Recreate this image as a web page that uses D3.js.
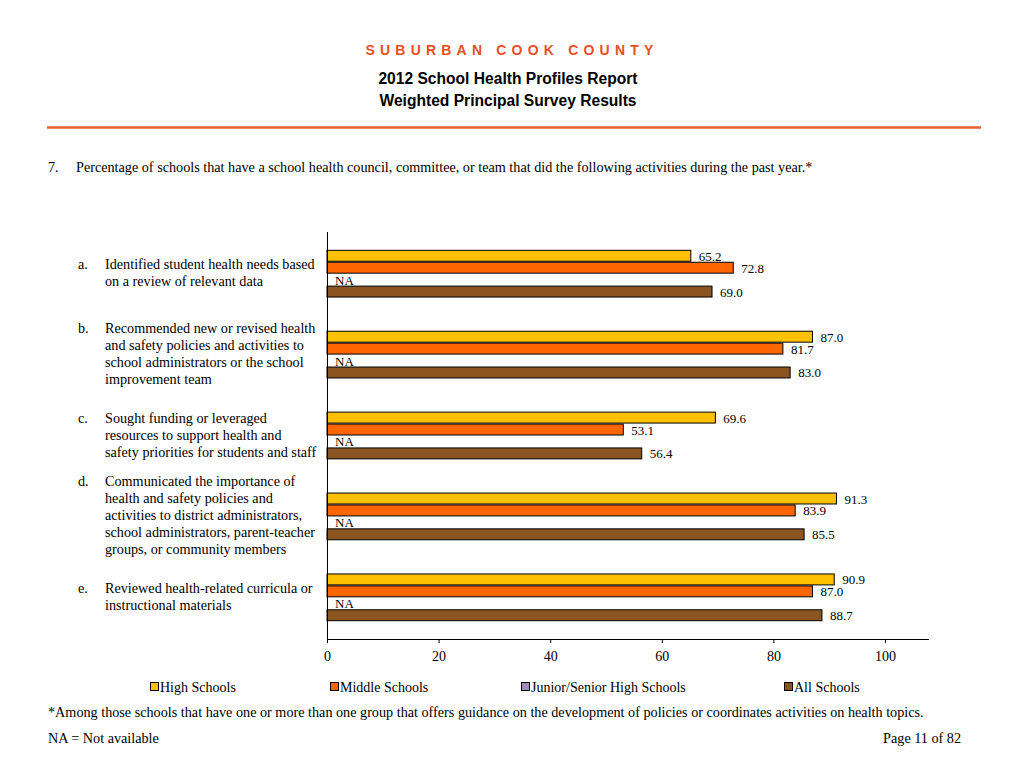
<!DOCTYPE html>
<html>
<head>
<meta charset="utf-8">
<script src="https://cdn.jsdelivr.net/npm/d3@7"></script>
<style>
  html, body { margin: 0; padding: 0; background: #fff; }
  svg { display: block; }
</style>
</head>
<body>
<svg id="chart" width="1024" height="768"></svg>
<script>
// ---- data ----
const categories = ["a.", "b.", "c.", "d.", "e."];
const categoryLabels = [
  ["Identified student health needs based", "on a review of relevant data"],
  ["Recommended new or revised health", "and safety policies and activities to", "school administrators or the school", "improvement team"],
  ["Sought funding or leveraged", "resources to support health and", "safety priorities for students and staff"],
  ["Communicated the importance of", "health and safety policies and", "activities to district administrators,", "school administrators, parent-teacher", "groups, or community members"],
  ["Reviewed health-related curricula or", "instructional materials"]
];
const seriesNames = ["High Schools", "Middle Schools", "Junior/Senior High Schools", "All Schools"];
const seriesColors = ["#FFC000", "#FF6600", "#A08CB8", "#8B5522"];
const highSchools = [65.2, 87.0, 69.6, 91.3, 90.9];
const middleSchools = [72.8, 81.7, 53.1, 83.9, 87.0];
const juniorSenior = [null, null, null, null, null]; // NA
const allSchools = [69.0, 83.0, 56.4, 85.5, 88.7];
const xTicks = [0, 20, 40, 60, 80, 100];

const seriesValues = [highSchools, middleSchools, juniorSenior, allSchools];

const svg = d3.select("#chart");
const serif = "'Liberation Serif', 'Times New Roman', serif";
const sans = "'Liberation Sans', Arial, sans-serif";

// ---- header ----
svg.append("text").attr("x", 512).attr("y", 55).attr("text-anchor", "middle")
  .attr("font-family", sans).attr("font-weight", "bold").attr("font-size", 14)
  .attr("letter-spacing", 5.2).attr("fill", "#E8501E").text("SUBURBAN COOK COUNTY");
svg.append("text").attr("x", 508).attr("y", 84).attr("text-anchor", "middle")
  .attr("font-family", sans).attr("font-weight", "bold").attr("font-size", 15.6)
  .attr("fill", "#000").text("2012 School Health Profiles Report");
svg.append("text").attr("x", 508).attr("y", 106).attr("text-anchor", "middle")
  .attr("font-family", sans).attr("font-weight", "bold").attr("font-size", 15.6)
  .attr("fill", "#000").text("Weighted Principal Survey Results");
svg.append("line").attr("x1", 47).attr("x2", 981).attr("y1", 127.5).attr("y2", 127.5)
  .attr("stroke", "#E8612C").attr("stroke-width", 2.5);

svg.append("text").attr("x", 48).attr("y", 172).attr("font-family", serif).attr("font-size", 14.2)
  .text("7.");
svg.append("text").attr("x", 76).attr("y", 172).attr("font-family", serif).attr("font-size", 14.2)
  .text("Percentage of schools that have a school health council, committee, or team that did the following activities during the past year.*");

// ---- scales ----
const x = d3.scaleLinear().domain([0, 100]).range([327, 885]);
const y = d3.scaleBand().domain(categories).range([232, 639]).paddingInner(0.41).paddingOuter(0.22);
const ySub = d3.scaleBand().domain(d3.range(seriesNames.length)).range([0, y.bandwidth()]);

const g = svg.append("g");

// bars
categories.forEach((cat, ci) => {
  const grp = g.append("g").attr("transform", `translate(0,${y(cat)})`);
  seriesValues.forEach((vals, si) => {
    const v = vals[ci];
    const top = ySub(si);
    const h = ySub.bandwidth();
    if (v == null) {
      grp.append("text").attr("x", x(0) + 8).attr("y", top + h / 2 + 5)
        .attr("font-family", serif).attr("font-size", 13).attr("fill", "#000").text("NA");
      return;
    }
    grp.append("rect").attr("x", x(0)).attr("y", top + 0.5)
      .attr("width", x(v) - x(0)).attr("height", h - 1)
      .attr("fill", seriesColors[si]).attr("stroke", "#000").attr("stroke-width", 1);
    grp.append("text").attr("x", x(v) + 8).attr("y", top + h / 2 + 5)
      .attr("font-family", serif).attr("font-size", 13).attr("fill", "#000").text(v.toFixed(1));
  });

  // category label
  const lines = categoryLabels[ci];
  const lh = 17;
  const cy = y(cat) + y.bandwidth() / 2 - 1;
  const firstY = cy - (lines.length - 1) * lh / 2 + 5;
  svg.append("text").attr("x", 78).attr("y", firstY).attr("font-family", serif).attr("font-size", 14.2).text(cat);
  lines.forEach((ln, li) => {
    svg.append("text").attr("x", 105).attr("y", firstY + li * lh)
      .attr("font-family", serif).attr("font-size", 14.2).text(ln);
  });
});

// axes
svg.append("line").attr("x1", 327.5).attr("x2", 327.5).attr("y1", 232).attr("y2", 639)
  .attr("stroke", "#000").attr("stroke-width", 1);
const xAxis = d3.axisBottom(x).tickValues(xTicks).tickSize(4).tickPadding(8).tickFormat(d3.format("d"));
const ax = svg.append("g").attr("transform", "translate(0,639)").call(xAxis);
ax.select(".domain").remove();
ax.append("line").attr("x1", 327).attr("x2", 929).attr("y1", 0.5).attr("y2", 0.5).attr("stroke", "#000");
ax.selectAll("text").attr("font-family", serif).attr("font-size", 14).attr("fill", "#000");

// legend
const legendX = [150, 330, 521, 784];
seriesNames.forEach((name, i) => {
  const lg = svg.append("g").attr("transform", `translate(${legendX[i]},682)`);
  lg.append("rect").attr("x", 0.5).attr("y", 0.5).attr("width", 8).attr("height", 8)
    .attr("fill", seriesColors[i]).attr("stroke", "#000").attr("stroke-width", 1);
  lg.append("text").attr("x", 10).attr("y", 9.5).attr("font-family", serif).attr("font-size", 14).text(name);
});

// footnotes
svg.append("text").attr("x", 48).attr("y", 717).attr("font-family", serif).attr("font-size", 14.2)
  .text("*Among those schools that have one or more than one group that offers guidance on the development of policies or coordinates activities on health topics.");
svg.append("text").attr("x", 48).attr("y", 743).attr("font-family", serif).attr("font-size", 14.2)
  .text("NA = Not available");
svg.append("text").attr("x", 961).attr("y", 743).attr("text-anchor", "end").attr("font-family", serif).attr("font-size", 14.2)
  .text("Page 11 of 82");
</script>
</body>
</html>
